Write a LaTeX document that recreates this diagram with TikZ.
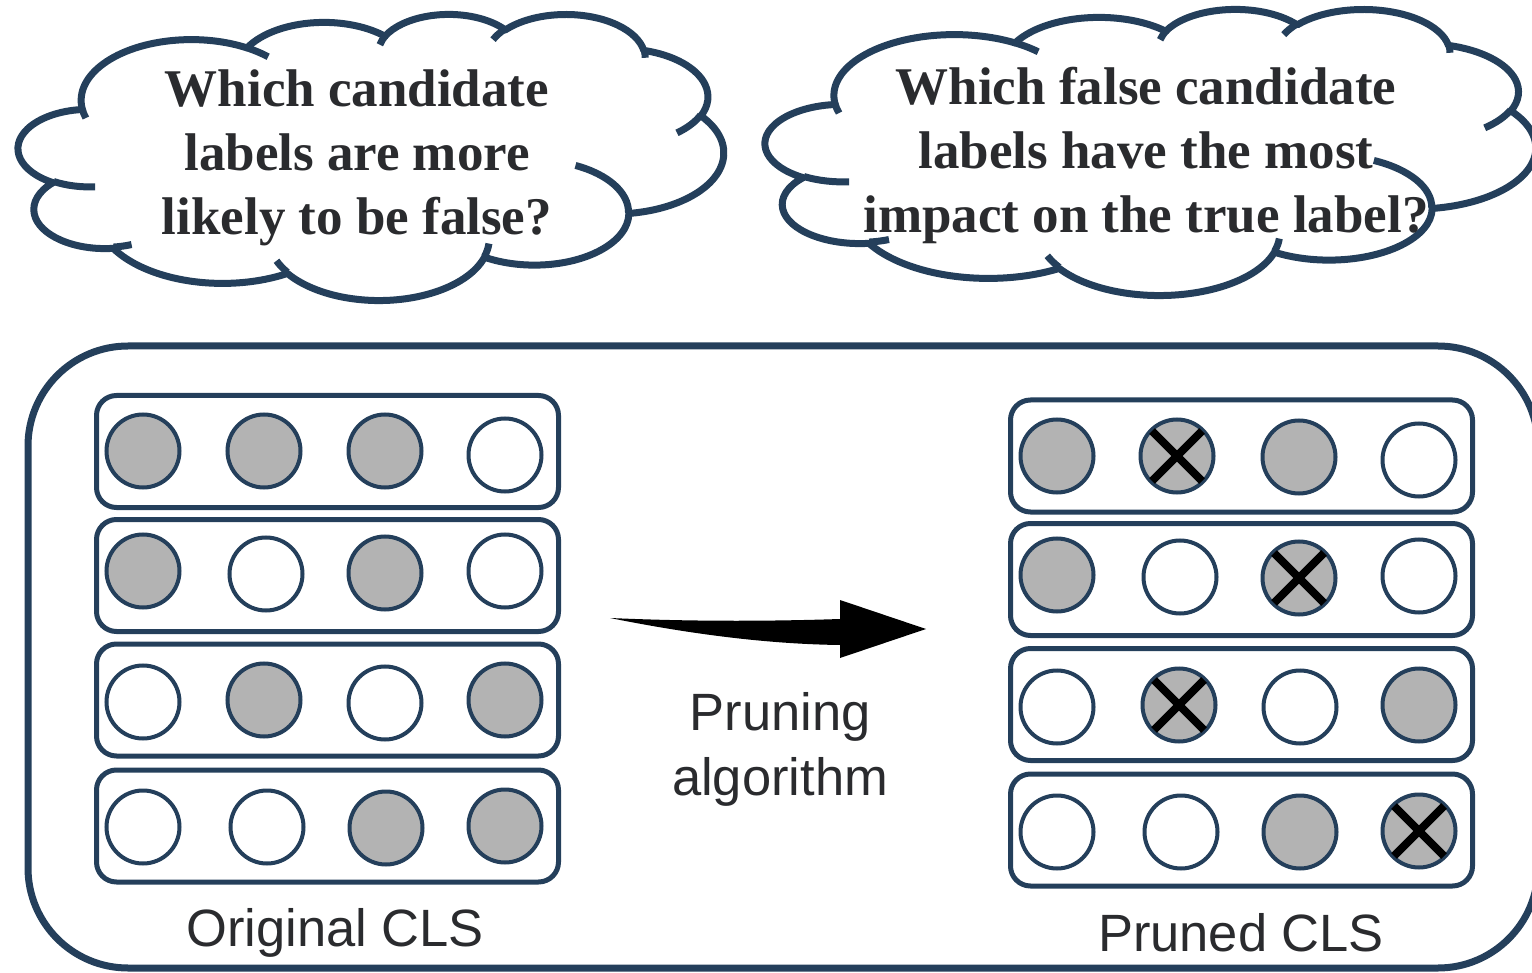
\documentclass[tikz,border=0pt]{standalone}
\usepackage{fontspec}
\setmainfont{Liberation Serif}
\newfontfamily\labelfont{Liberation Sans}
\usetikzlibrary{calc}

\definecolor{edgeblue}{HTML}{243F5B}
\definecolor{dotgray}{HTML}{B3B3B3}
\definecolor{inkgray}{HTML}{2A2B2E}

% One bump of a cloud outline: ellipse radii (shape units /1000),
% start angle and sweep (degrees, measured on screen, clockwise).
\newcommand\cldarc[4]{%
  \pgfmathsetmacro\cldA{atan2((#1)*sin(#3),(#2)*cos(#3))}%
  \pgfmathsetmacro\cldB{atan2((#1)*sin((#3)+(#4)),(#2)*cos((#3)+(#4)))}%
  \pgfmathsetmacro\cldD{mod((\cldB)-(\cldA)+720,360)}%
  \pgfmathsetmacro\cldS{0-(\cldA)}%
  \pgfmathsetmacro\cldE{0-(\cldA)-(\cldD)}%
  \pgfmathsetlengthmacro\cldRx{(#1)*\cldsx*1pt}%
  \pgfmathsetlengthmacro\cldRy{(#2)*\cldsy*1pt}%
  \pgfpatharc{\cldS}{\cldE}{\cldRx and \cldRy}%
}
\newcommand\cldmove[2]{%
  \pgfpathmoveto{\pgfpointxy{\cldx+(#1)*\cldsx}{\cldy+(#2)*\cldsy}}}

% Cloud outline in the box with top-left corner (#1,#2), width #3, height #4
\newcommand\cloudoutline[4]{%
  \def\cldx{#1}\def\cldy{#2}%
  \pgfmathsetmacro\cldsx{(#3)/43.2}\pgfmathsetmacro\cldsy{(#4)/43.2}%
  \cldmove{3.9}{14.37}%
  \cldarc{6.753}{9.190}{-190.4875}{123.7805}%
  \cldarc{5.333}{7.267}{-144.1024}{89.9452}%
  \cldarc{4.365}{5.945}{-145.8079}{99.7230}%
  \cldarc{4.857}{6.595}{-130.9861}{117.2417}%
  \cldarc{5.333}{7.273}{-78.7089}{109.0269}%
  \cldarc{6.775}{9.220}{-46.2673}{130.2690}%
  \cldarc{5.785}{7.867}{0.6250}{114.0333}%
  \cldarc{6.752}{9.215}{22.4516}{115.1726}%
  \cldarc{7.720}{10.543}{66.2426}{75.7110}%
  \cldarc{4.360}{5.918}{-274.9421}{146.7356}%
  \cldarc{4.345}{5.945}{-246.8285}{152.5189}%
  \pgfpathclose
}
% Inner hooks where the bumps of the cloud meet
\newcommand\cloudhooks{%
  \cldmove{4.693}{26.177}\cldarc{4.345}{5.945}{86.742}{26.4295}%
  \cldmove{6.928}{34.899}\cldarc{4.360}{5.918}{73.610}{11.447}%
  \cldmove{16.478}{39.090}\cldarc{6.752}{9.215}{137.624}{14.081}%
  \cldmove{28.827}{34.751}\cldarc{6.752}{9.215}{6.4533}{15.998}%
  \cldmove{34.129}{22.954}\cldarc{5.785}{7.867}{-70.2924}{70.917}%
  \cldmove{41.798}{15.354}\cldarc{5.333}{7.273}{30.318}{27.75}%
  \cldmove{38.324}{5.426}\cldarc{4.857}{6.595}{-13.744}{14.859}%
  \cldmove{29.078}{3.952}\cldarc{4.857}{6.595}{-149.18}{18.195}%
  \cldmove{22.141}{4.720}\cldarc{4.365}{5.945}{-163.494}{17.686}%
  \cldmove{14.000}{5.192}\cldarc{6.753}{9.190}{-66.707}{12.319}%
  \cldmove{4.127}{15.789}\cldarc{6.753}{9.190}{157.654}{11.858}%
}
\newcommand\drawcloud[4]{%
  \begin{pgfscope}
    \pgfsetlinewidth{7pt}%
    \pgfsetroundjoin
    \pgfsetstrokecolor{edgeblue}%
    \pgfsetfillcolor{white}%
    \cloudoutline{#1}{#2}{#3}{#4}%
    \pgfusepath{fill,stroke}%
    \cloudhooks
    \pgfusepath{stroke}%
  \end{pgfscope}%
}

\begin{document}
\begin{tikzpicture}[x=1pt,y=-1pt,
  frame/.style={draw=edgeblue, line width=7pt, rounded corners=100pt},
  rowbox/.style={rectangle, draw=edgeblue, line width=5pt, rounded corners=20pt,
    minimum width=462pt, minimum height=112pt, inner sep=0pt},
  dot/.style={circle, draw=edgeblue, line width=4pt, minimum size=73pt,
    inner sep=0pt, fill=white},
  hit/.style={dot, fill=dotgray},
  xmark/.style={line width=8pt, black},
  question/.style={font=\fontsize{53}{64}\selectfont\bfseries, text=inkgray,
    align=center, inner sep=0pt},
  caption/.style={font=\labelfont\fontsize{52.5}{64}\selectfont, text=inkgray,
    inner sep=0pt, anchor=base}]
\useasboundingbox (0,0) rectangle (1532,973);
\clip (0,0) rectangle (1532,973);

% thought clouds with the two questions
\drawcloud{18.5}{13.5}{705}{286}
\drawcloud{765.5}{8.5}{770}{286}
\node[question] (qleft) at (357,158)
  {Which candidate\\labels are more\\likely to be false?};
\node[question] (qright) at (1146,155)
  {Which false candidate\\labels have the most\\impact on the true label?};

% outer frame
\draw[frame] (28,346) rectangle (1538,968);

% original candidate label sets
\node[rowbox] (lrow1) at (327.5,451.5) {};
\node[rowbox] (lrow2) at (327.5,575.5) {};
\node[rowbox] (lrow3) at (327.5,700) {};
\node[rowbox] (lrow4) at (327.5,826) {};

\node[hit] (l11) at (143,451) {};
\node[hit] (l12) at (264,451) {};
\node[hit] (l13) at (385,451) {};
\node[dot] (l14) at (505,455) {};
\node[hit] (l21) at (143,571) {};
\node[dot] (l22) at (266,574) {};
\node[hit] (l23) at (385,573) {};
\node[dot] (l24) at (505,571) {};
\node[dot] (l31) at (143,702) {};
\node[hit] (l32) at (264,700) {};
\node[dot] (l33) at (385,703) {};
\node[hit] (l34) at (505,700) {};
\node[dot] (l41) at (143,827) {};
\node[dot] (l42) at (267,827) {};
\node[hit] (l43) at (386,828) {};
\node[hit] (l44) at (505,826) {};

% pruned candidate label sets
\node[rowbox] (rrow1) at (1241.5,456) {};
\node[rowbox] (rrow2) at (1241.5,579.5) {};
\node[rowbox] (rrow3) at (1241.5,704.5) {};
\node[rowbox] (rrow4) at (1241.5,830) {};

\node[hit] (r11) at (1057,456) {};
\node[hit] (r12) at (1177,456) {};
\node[hit] (r13) at (1299,457) {};
\node[dot] (r14) at (1419,460) {};
\node[hit] (r21) at (1057,575) {};
\node[dot] (r22) at (1180,577) {};
\node[hit] (r23) at (1299,578) {};
\node[dot] (r24) at (1419,576) {};
\node[dot] (r31) at (1057,707) {};
\node[hit] (r32) at (1179,705) {};
\node[dot] (r33) at (1300,707) {};
\node[hit] (r34) at (1419,705) {};
\node[dot] (r41) at (1057,832) {};
\node[dot] (r42) at (1181,832) {};
\node[hit] (r43) at (1300,832) {};
\node[hit] (r44) at (1419,831) {};

% removed labels
\foreach \n in {r12,r23,r32,r44}{
  \draw[xmark] ($(\n.center)+(-25,-25)$) -- ($(\n.center)+(25,25)$);
  \draw[xmark] ($(\n.center)+(-25,25)$) -- ($(\n.center)+(25,-25)$);
}

% pruning arrow
\coordinate (atail) at (610,618);
\coordinate (atip) at (926,629);
\fill[black] (atail) .. controls (700,622) and (780,621) .. (840,619)
  -- (840,600) -- (atip) -- (840,658) -- (840,645)
  .. controls (760,644) and (680,632) .. (atail) -- cycle;

\node[caption] (prune1) at (780,730) {Pruning};
\node[caption] (prune2) at (780,795) {algorithm};
\node[caption] (origlbl) at (335,946) {Original CLS};
\node[caption] (prunedlbl) at (1241,951) {Pruned CLS};
\end{tikzpicture}
\end{document}
